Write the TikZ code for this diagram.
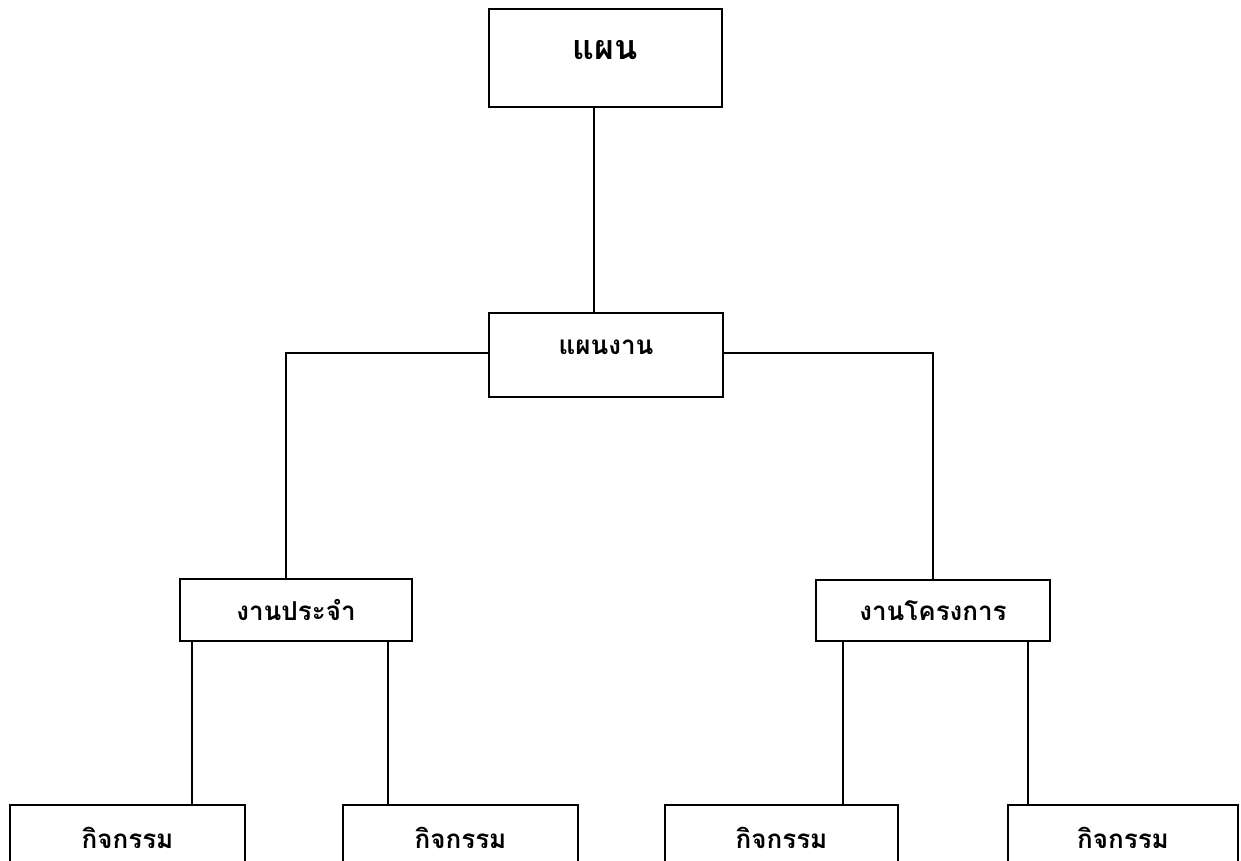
\documentclass[tikz,border=0pt]{standalone}
\usepackage{fontspec}
\newfontfamily\thaifont[Script=Thai]{Loma}

\begin{document}
\begin{tikzpicture}[x=0.5pt,y=-0.5pt,
		box/.style={draw,line width=1pt,inner sep=0pt,font=\thaifont\bfseries\fontsize{13}{15}\selectfont},
		link/.style={line width=1pt}]
		\useasboundingbox (0,0) rectangle (1241,861);
		
		\node[box,minimum width=116.5pt,minimum height=49pt,text depth=8pt,font=\thaifont\bfseries\fontsize{17}{19}\selectfont] (plan) at (605.5,58) {แผน};
		\node[box,minimum width=117pt,minimum height=42pt,text depth=8pt] (work) at (606,355) {แผนงาน};
		\node[box,minimum width=116pt,minimum height=31pt] (daily) at (296,610) {งานประจำ};
		\node[box,minimum width=117pt,minimum height=30.5pt] (proj) at (933,610.5) {งานโครงการ};
		
		\node[box,minimum width=117.5pt,minimum height=33pt] (act1) at (127.5,838) {กิจกรรม};
		\node[box,minimum width=117.5pt,minimum height=33pt] (act2) at (460.5,838) {กิจกรรม};
		\node[box,minimum width=116.5pt,minimum height=33pt] (act3) at (781.5,838) {กิจกรรม};
		\node[box,minimum width=115pt,minimum height=33pt] (act4) at (1123,838) {กิจกรรม};
		
		\coordinate (stem) at (594,200);
		\coordinate (lc) at (286,353);
		\coordinate (rc) at (933,353);
		
		\draw[link] (plan.south -| stem) -- (work.north -| stem);
		\draw[link] (work.west |- lc) -- (lc) -- (lc |- daily.north);
		\draw[link] (work.east |- rc) -- (rc) -- (rc |- proj.north);
		
		\foreach \x/\p/\c in {192/daily/act1, 388/daily/act2, 843/proj/act3, 1028/proj/act4}
			\draw[link] (\p.south -| \x,0) -- (\c.north -| \x,0);
\end{tikzpicture}
\end{document}
